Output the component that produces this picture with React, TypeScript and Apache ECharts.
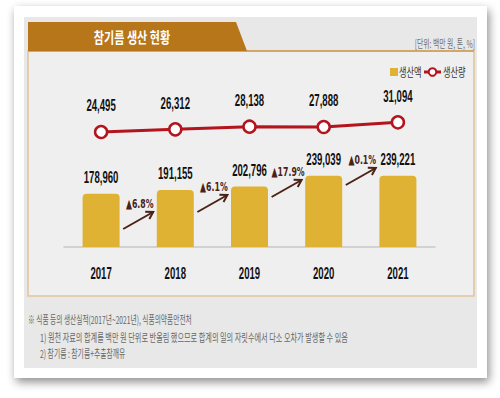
import React, { useEffect, useRef } from "react";
import * as echarts from "echarts";

// ---- data ----
const years = ["2017", "2018", "2019", "2020", "2021"];
const productionValue = [178960, 191155, 202796, 239039, 239221]; // 생산액 (백만 원)
const productionVolume = [24495, 26312, 28138, 27888, 31094]; // 생산량 (톤)
const growthRates = ["6.8", "6.1", "17.9", "0.1"]; // 생산액 증감률 (%)
const legendNames = ["생산액", "생산량"];
const titleText = "참기름 생산 현황";
const unitText = "[단위: 백만 원, 톤, %]";
const notes = [
  "※ 식품 등의 생산실적(2017년~2021년), 식품의약품안전처",
  "1) 원천 자료의 합계를 백만 원 단위로 반올림 했으므로 합계의 일의 자릿수에서 다소 오차가 발생할 수 있음",
  "2) 참기름 : 참기름+추출참깨유",
];

// ---- style / layout ----
const NUM_FONT = '"Liberation Sans", Arial, sans-serif';
const TRI_FONT = '"DejaVu Sans", "Liberation Sans", sans-serif';
const KR_FONT = '"Noto Sans CJK KR", "Noto Sans", sans-serif';
const BAR_COLOR = "#dfb233";
const LINE_COLOR = "#b3141d";
const ARROW_COLOR = "#4a2216";
const arrowTipY = [212, 195, 180, 168];

const fmt = (v: number) => v.toLocaleString("en-US");

export default function App() {
  const ref = useRef<HTMLDivElement>(null);

  useEffect(() => {
    if (!ref.current) return;
    const chart = echarts.init(ref.current, null, { renderer: "svg" });

    const base: any = {
      animation: false,
      backgroundColor: "#ffffff",
      grid: { left: 64, top: 80, width: 371, height: 167, containLabel: false },
      xAxis: {
        type: "category",
        data: years,
        boundaryGap: true,
        axisTick: { show: false },
        axisLine: { lineStyle: { color: "#c9c9c9", width: 1.5 } },
        axisLabel: { show: false },
      },
      yAxis: [
        { type: "value", min: 0, max: 560000, show: false, splitLine: { show: false } },
        { type: "value", min: -54000, max: 60000, show: false, splitLine: { show: false } },
      ],
      series: [
        {
          name: legendNames[0],
          type: "bar",
          data: productionValue,
          barWidth: 37,
          itemStyle: { color: BAR_COLOR, borderRadius: [4, 4, 0, 0] },
          z: 2,
        },
        {
          name: legendNames[1],
          type: "line",
          yAxisIndex: 1,
          data: productionVolume,
          symbol: "circle",
          symbolSize: 12,
          lineStyle: { color: LINE_COLOR, width: 3 },
          itemStyle: { color: "#ffffff", borderColor: LINE_COLOR, borderWidth: 2.5 },
          z: 3,
        },
      ],
    };
    chart.setOption(base);

    const xs = years.map((y) => chart.convertToPixel({ xAxisIndex: 0 }, y) as number);
    const barTop = productionValue.map((v, i) => (chart.convertToPixel({ seriesIndex: 0 }, [i, v]) as number[])[1]);
    const linePt = productionVolume.map((v, i) => (chart.convertToPixel({ seriesIndex: 1 }, [i, v]) as number[])[1]);
    const baseY = (chart.convertToPixel({ seriesIndex: 0 }, [0, 0]) as number[])[1];

    const txt = (
      text: string,
      x: number,
      y: number,
      size: number,
      fill: string,
      align: string,
      scaleX: number,
      weight = "normal",
      family = KR_FONT,
      z = 50
    ) => ({
      type: "text",
      x,
      y,
      scaleX,
      z,
      style: {
        text,
        fill,
        fontSize: size,
        fontFamily: family,
        fontWeight: weight,
        align,
        textAlign: align,
        verticalAlign: "middle",
        textVerticalAlign: "middle",
      },
    });

    const graphics: any[] = [
      // card with shadow
      {
        type: "rect",
        z: -20,
        shape: { x: 14, y: 6, width: 473, height: 372 },
        style: {
          fill: "#ffffff",
          shadowBlur: 10,
          shadowColor: "rgba(0,0,0,0.45)",
          shadowOffsetX: 2,
          shadowOffsetY: 4,
        },
      },
      // gray panel
      { type: "rect", z: -19, shape: { x: 24, y: 17, width: 453, height: 351 }, style: { fill: "#e8e8e8" } },
      // inner chart panel
      {
        type: "rect",
        z: -18,
        shape: { x: 28, y: 51, width: 446, height: 245 },
        style: { fill: "#efefef", stroke: "#e0c597", lineWidth: 1.5 },
      },
      {
        type: "line",
        z: -17,
        shape: { x1: 28, y1: 51, x2: 474, y2: 51 },
        style: { stroke: "#c99b55", lineWidth: 1.5 },
      },
      // title tab
      {
        type: "polygon",
        z: -16,
        shape: { points: [[28, 22], [236, 22], [247, 51], [28, 51]] },
        style: { fill: "#b8761b" },
      },
      txt(titleText, 132, 37, 15, "#ffffff", "center", 0.74, "bold"),
      txt(unitText, 475, 43, 11, "#6f6f6f", "right", 0.62),
      // legend
      { type: "rect", z: 50, shape: { x: 390, y: 68, width: 8, height: 8 }, style: { fill: BAR_COLOR } },
      txt(legendNames[0], 399, 72, 12, "#333", "left", 0.68),
      {
        type: "line",
        z: 50,
        shape: { x1: 424, y1: 72, x2: 441, y2: 72 },
        style: { stroke: LINE_COLOR, lineWidth: 3 },
      },
      {
        type: "circle",
        z: 51,
        shape: { cx: 432.5, cy: 72, r: 3.8 },
        style: { fill: "#fff", stroke: LINE_COLOR, lineWidth: 2 },
      },
      txt(legendNames[1], 443, 72, 12, "#333", "left", 0.68),
      // notes
      txt(notes[0], 28, 319, 11, "#666", "left", 0.61),
      txt(notes[1], 40, 337, 11, "#666", "left", 0.65),
      txt(notes[2], 40, 353, 11, "#666", "left", 0.62),
    ];

    // category labels & value labels
    years.forEach((y, i) => {
      graphics.push(txt(y, xs[i], baseY + 27, 16, "#111", "center", 0.6, "bold", NUM_FONT, 60));
      graphics.push(txt(fmt(productionValue[i]), xs[i], barTop[i] - 16, 16, "#111", "center", 0.6, "bold", NUM_FONT, 60));
      graphics.push(txt(fmt(productionVolume[i]), xs[i], linePt[i] - 26, 16, "#111", "center", 0.6, "bold", NUM_FONT, 60));
    });

    // growth arrows
    growthRates.forEach((g, i) => {
      const mx = (xs[i] + xs[i + 1]) / 2;
      const ex = mx + 15;
      const ey = arrowTipY[i];
      const sx = mx - 15;
      const sy = ey + 17;
      const ang = Math.atan2(ey - sy, ex - sx);
      const hl = 8;
      const h1 = [ex - hl * Math.cos(ang - 0.55), ey - hl * Math.sin(ang - 0.55)];
      const h2 = [ex - hl * Math.cos(ang + 0.55), ey - hl * Math.sin(ang + 0.55)];
      graphics.push({
        type: "line",
        z: 60,
        shape: { x1: sx, y1: sy, x2: ex, y2: ey },
        style: { stroke: ARROW_COLOR, lineWidth: 2 },
      });
      graphics.push({
        type: "polyline",
        z: 60,
        shape: { points: [h1, [ex, ey], h2] },
        style: { stroke: ARROW_COLOR, lineWidth: 2, fill: null },
      });
      graphics.push(txt("▲" + g + "%", ex - 13.5, ey - 8, 13, ARROW_COLOR, "center", 0.6, "bold", TRI_FONT, 60));
    });

    chart.setOption({ graphic: graphics });

    return () => chart.dispose();
  }, []);

  return (
    <div
      ref={ref}
      style={{ position: "fixed", left: 0, top: 0, width: 500, height: 398 }}
    />
  );
}
